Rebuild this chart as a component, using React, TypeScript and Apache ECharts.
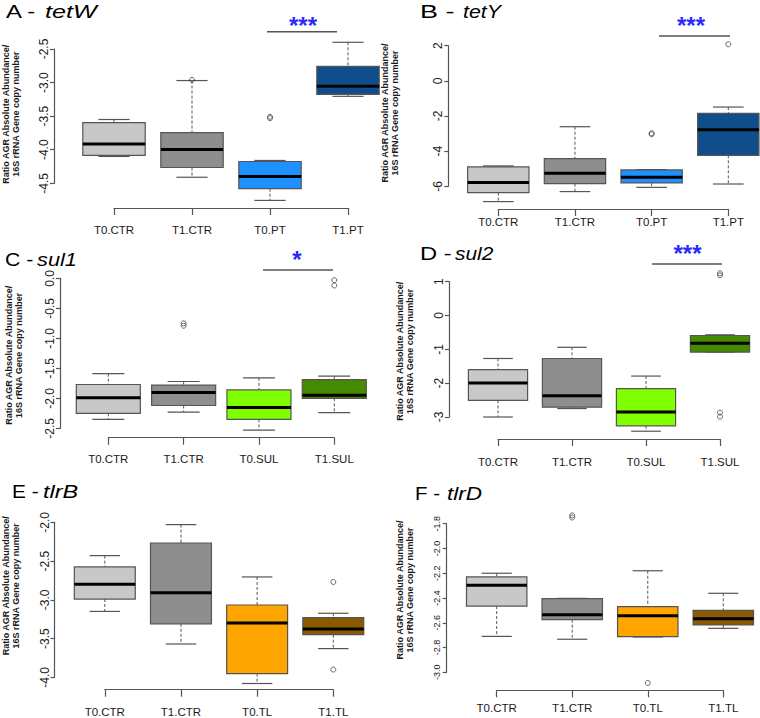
import React, { useEffect, useRef } from "react";
import * as echarts from "echarts";

// ---------- categories ----------
const categoriesPT = ["T0.CTR", "T1.CTR", "T0.PT", "T1.PT"];
const categoriesSUL = ["T0.CTR", "T1.CTR", "T0.SUL", "T1.SUL"];
const categoriesTL = ["T0.CTR", "T1.CTR", "T0.TL", "T1.TL"];

// ---------- box statistics: [lower whisker, Q1, median, Q3, upper whisker] ----------
const tetWBoxes = [
  [-4.1, -4.085, -3.915, -3.595, -3.55],
  [-4.41, -4.265, -3.995, -3.745, -2.97],
  [-4.755, -4.58, -4.4, -4.175, -4.16],
  [-3.205, -3.175, -3.055, -2.76, -2.4],
];
const tetYBoxes = [
  [-6.87, -6.36, -5.79, -4.9, -4.84],
  [-6.3, -5.85, -5.26, -4.43, -2.61],
  [-6.06, -5.81, -5.49, -5.07, -5.05],
  [-5.87, -4.24, -2.78, -1.85, -1.49],
];
const sul1Boxes = [
  [-2.35, -2.25, -1.99, -1.77, -1.59],
  [-2.23, -2.12, -1.905, -1.78, -1.72],
  [-2.53, -2.35, -2.155, -1.86, -1.66],
  [-2.24, -2.0, -1.95, -1.69, -1.63],
];
const sul2Boxes = [
  [-3.0, -2.51, -1.995, -1.6, -1.27],
  [-2.75, -2.71, -2.37, -1.27, -0.94],
  [-3.42, -3.26, -2.85, -2.16, -1.79],
  [-1.08, -1.08, -0.82, -0.59, -0.57],
];
const tlrBBoxes = [
  [-3.15, -2.99, -2.8, -2.576, -2.43],
  [-3.57, -3.31, -2.91, -2.267, -2.03],
  [-4.08, -3.953, -3.3, -3.067, -2.705],
  [-3.63, -3.45, -3.376, -3.23, -3.174],
];
const tlrDBoxes = [
  [-2.71, -2.465, -2.298, -2.23, -2.2],
  [-2.733, -2.575, -2.535, -2.405, -2.403],
  [-2.715, -2.712, -2.543, -2.47, -2.18],
  [-2.645, -2.618, -2.567, -2.5, -2.362],
];

// ---------- outliers: [category index, value] ----------
const tetWOutliers = [[1, -2.96], [2, -3.51], [2, -3.53]];
const tetYOutliers = [[2, -2.98], [2, -3.04], [3, 2.08]];
const sul1Outliers = [[1, -0.75], [1, -0.79], [3, -0.03], [3, -0.12]];
const sul2Outliers = [[3, 1.25], [3, 1.19], [3, -2.87], [3, -2.99]];
const tlrBOutliers = [[3, -2.77], [3, -3.9]];
const tlrDOutliers = [[1, -1.733], [1, -1.75], [2, -3.086]];

// ---------- y tick labels ----------
const tetWTicks = [-4.5, -4.0, -3.5, -3.0, -2.5];
const tetYTicks = [-6, -4, -2, 0, 2];
const sul1Ticks = [-2.5, -2.0, -1.5, -1.0, -0.5, 0.0];
const sul2Ticks = [-3, -2, -1, 0, 1];
const tlrBTicks = [-4.0, -3.5, -3.0, -2.5, -2.0];
const tlrDTicks = [-3.0, -2.8, -2.6, -2.4, -2.2, -2.0, -1.8];

const yTitle = "Ratio AGR Absolute Abundance/\n16S rRNA Gene copy number";

const colorsPT = ["#C8C8C8", "#8E8E8E", "#1E90FF", "#104E8B"];
const colorsSUL = ["#C8C8C8", "#8E8E8E", "#7FFF00", "#458B00"];
const colorsTL = ["#C8C8C8", "#8E8E8E", "#FFA500", "#8B5A00"];

const panels = [
  { prefix: "A -", gene: "tetW", px: 6, gx: 45, ps: 1.33, gs: 1.4, ty: 11.5, cats: categoriesPT, boxes: tetWBoxes, outliers: tetWOutliers, ticks: tetWTicks, dec: 1, colors: colorsPT,
    grid: { left: 113, top: 49, width: 235, height: 134.3 }, yOffset: 60, xOffset: 24.7, xMargin: 16, nameGap: 33, namePad: [0, 0, 0, 4], labelSize: 12, yMargin: 4, frac: 0.8,
    sig: { x1: 267, x2: 337, y: 31.7, sx: 303, sy: 25, text: "***" } },
  { prefix: "B -", gene: "tetY", px: 420, gx: 463, ps: 1.5, gs: 1.19, ty: 11.5, cats: categoriesPT, boxes: tetYBoxes, outliers: tetYOutliers, ticks: tetYTicks, dec: 0, colors: colorsPT,
    grid: { left: 498.3, top: 45.7, width: 230, height: 140.6 }, yOffset: 50, xOffset: 22.7, xMargin: 7, nameGap: 48, namePad: [0, 0, 0, 6], labelSize: 12, yMargin: 4, frac: 0.8,
    sig: { x1: 659, x2: 730, y: 36, sx: 691, sy: 25, text: "***" } },
  { prefix: "C -", gene: "sul1", px: 5, gx: 37, ps: 1.18, gs: 1.21, ty: 260, cats: categoriesSUL, boxes: sul1Boxes, outliers: sul1Outliers, ticks: sul1Ticks, dec: 1, colors: colorsSUL,
    grid: { left: 108.3, top: 278.3, width: 226, height: 150 }, yOffset: 48.3, xOffset: 9.4, xMargin: 15, nameGap: 36, namePad: [0, 4, 0, 0], labelSize: 12, yMargin: 4, frac: 0.85,
    sig: { x1: 263, x2: 333, y: 270, sx: 297, sy: 259, text: "*" } },
  { prefix: "D -", gene: "sul2", px: 420, gx: 455, ps: 1.32, gs: 1.16, ty: 253.5, cats: categoriesSUL, boxes: sul2Boxes, outliers: sul2Outliers, ticks: sul2Ticks, dec: 0, colors: colorsSUL,
    grid: { left: 498, top: 281.7, width: 222, height: 135.3 }, yOffset: 49, xOffset: 22, xMargin: 17, nameGap: 34.5, namePad: [0, 4, 0, 0], labelSize: 12, yMargin: 4, frac: 0.8,
    sig: { x1: 652, x2: 722, y: 264, sx: 687.5, sy: 253, text: "***" } },
  { prefix: "E -", gene: "tlrB", px: 12, gx: 43, ps: 1.16, gs: 1.3, ty: 492, cats: categoriesTL, boxes: tlrBBoxes, outliers: tlrBOutliers, ticks: tlrBTicks, dec: 1, colors: colorsTL,
    grid: { left: 103.3, top: 522.3, width: 230, height: 155 }, yOffset: 50.3, xOffset: 12.4, xMargin: 16, nameGap: 33.5, namePad: [0, 0, 0, 28], labelSize: 12, yMargin: 4, frac: 0.8,
    sig: null },
  { prefix: "F -", gene: "tlrD", px: 415, gx: 447, ps: 1.14, gs: 1.25, ty: 494, cats: categoriesTL, boxes: tlrDBoxes, outliers: tlrDOutliers, ticks: tlrDTicks, dec: 1, colors: colorsTL,
    grid: { left: 496.7, top: 523.7, width: 226.6, height: 148.6 }, yOffset: 50, xOffset: 18, xMargin: 12, nameGap: 31.7, namePad: [0, 0, 0, 16], labelSize: 9, yMargin: 5, frac: 0.8,
    sig: null },
];

const AXIS_COLOR = "#555555";
const TEXT_COLOR = "#1a1a1a";
const FONT = "Liberation Sans, Arial, sans-serif";

function buildOption() {
  const grid: any[] = [];
  const xAxis: any[] = [];
  const yAxis: any[] = [];
  const series: any[] = [];
  const graphic: any[] = [];

  panels.forEach((p, i) => {
    grid.push({ ...p.grid, containLabel: false });
    xAxis.push({
      type: "category",
      gridIndex: i,
      data: p.cats,
      boundaryGap: false,
      position: "bottom",
      offset: p.xOffset,
      axisLine: { show: true, onZero: false, lineStyle: { color: AXIS_COLOR, width: 1.2 } },
      axisTick: { show: true, length: 7, lineStyle: { color: AXIS_COLOR, width: 1.2 } },
      axisLabel: { interval: 0, margin: p.xMargin, fontSize: 11.5, color: TEXT_COLOR, fontFamily: FONT },
      splitLine: { show: false },
    });
    const step = Math.round((p.ticks[1] - p.ticks[0]) * 1000) / 1000;
    yAxis.push({
      type: "value",
      gridIndex: i,
      position: "left",
      offset: p.yOffset,
      min: p.ticks[0],
      max: p.ticks[p.ticks.length - 1],
      interval: step,
      axisLine: { show: true, onZero: false, lineStyle: { color: AXIS_COLOR, width: 1.2 } },
      axisTick: { show: true, length: 4, lineStyle: { color: AXIS_COLOR, width: 1.2 } },
      axisLabel: {
        rotate: 90,
        margin: p.yMargin,
        fontSize: p.labelSize,
        color: TEXT_COLOR,
        fontFamily: FONT,
        formatter: (v: number) => (Math.abs(v) < 1e-9 ? (0).toFixed(p.dec) : v.toFixed(p.dec)),
      },
      splitLine: { show: false },
      name: yTitle,
      nameLocation: "middle",
      nameRotate: 90,
      nameGap: p.nameGap,
      nameTextStyle: { fontSize: 9, fontWeight: "bold", lineHeight: 10, color: TEXT_COLOR, fontFamily: FONT, padding: p.namePad },
    });

    const colors = p.colors;
    const frac = p.frac;
    series.push({
      type: "custom",
      xAxisIndex: i,
      yAxisIndex: i,
      clip: false,
      dimensions: ["x", "lo", "q1", "med", "q3", "hi"],
      encode: { x: 0, y: [1, 2, 3, 4, 5] },
      data: p.boxes.map((b, k) => [k, ...b]),
      renderItem: (params: any, api: any) => {
        const idx = api.value(0);
        const pLo = api.coord([idx, api.value(1)]);
        const pQ1 = api.coord([idx, api.value(2)]);
        const pMed = api.coord([idx, api.value(3)]);
        const pQ3 = api.coord([idx, api.value(4)]);
        const pHi = api.coord([idx, api.value(5)]);
        const band = api.size([1, 0])[0];
        const bw = band * frac;
        const cw = bw / 2;
        const cx = pLo[0];
        const wStyle = { stroke: AXIS_COLOR, lineWidth: 1, lineDash: [3, 2], fill: null };
        const cStyle = { stroke: AXIS_COLOR, lineWidth: 1.2, fill: null };
        return {
          type: "group",
          children: [
            { type: "line", shape: { x1: cx, y1: pHi[1], x2: cx, y2: pQ3[1] }, style: wStyle },
            { type: "line", shape: { x1: cx, y1: pQ1[1], x2: cx, y2: pLo[1] }, style: wStyle },
            { type: "line", shape: { x1: cx - cw / 2, y1: pHi[1], x2: cx + cw / 2, y2: pHi[1] }, style: cStyle },
            { type: "line", shape: { x1: cx - cw / 2, y1: pLo[1], x2: cx + cw / 2, y2: pLo[1] }, style: cStyle },
            {
              type: "rect",
              shape: { x: cx - bw / 2, y: pQ3[1], width: bw, height: pQ1[1] - pQ3[1] },
              style: { fill: colors[idx], stroke: AXIS_COLOR, lineWidth: 1.2 },
            },
            { type: "line", shape: { x1: cx - bw / 2, y1: pMed[1], x2: cx + bw / 2, y2: pMed[1] }, style: { stroke: "#000", lineWidth: 3 } },
          ],
        };
      },
    });
    series.push({
      type: "scatter",
      xAxisIndex: i,
      yAxisIndex: i,
      clip: false,
      symbol: "circle",
      symbolSize: 5,
      itemStyle: { color: "rgba(255,255,255,0)", borderColor: "#444", borderWidth: 1 },
      data: p.outliers,
      z: 5,
    });

    graphic.push({
      type: "text",
      x: p.px,
      y: p.ty,
      scaleX: p.ps,
      style: { text: p.prefix, font: "18px 'Liberation Sans', Arial, sans-serif", fill: "#000", verticalAlign: "middle", align: "left" },
    });
    graphic.push({
      type: "text",
      x: p.gx,
      y: p.ty,
      scaleX: p.gs,
      style: { text: p.gene, font: "italic 18px 'Liberation Sans', Arial, sans-serif", fill: "#000", verticalAlign: "middle", align: "left" },
    });
    if (p.sig) {
      graphic.push({
        type: "line",
        shape: { x1: p.sig.x1, y1: p.sig.y, x2: p.sig.x2, y2: p.sig.y },
        style: { stroke: AXIS_COLOR, lineWidth: 1.5 },
      });
      graphic.push({
        type: "text",
        x: p.sig.sx,
        y: p.sig.sy,
        style: { text: p.sig.text, font: "bold 24px 'Liberation Sans', Arial, sans-serif", fill: "#2a2aff", verticalAlign: "middle", align: "center" },
      });
    }
  });

  return {
    animation: false,
    backgroundColor: "#ffffff",
    grid,
    xAxis,
    yAxis,
    series,
    graphic,
  };
}

export default function App() {
  const ref = useRef<HTMLDivElement>(null);
  useEffect(() => {
    document.body.style.margin = "0";
    if (!ref.current) return;
    const chart = echarts.init(ref.current, undefined, { renderer: "svg" });
    chart.setOption(buildOption() as any);
    return () => chart.dispose();
  }, []);
  return <div ref={ref} style={{ width: 760, height: 718 }} />;
}
